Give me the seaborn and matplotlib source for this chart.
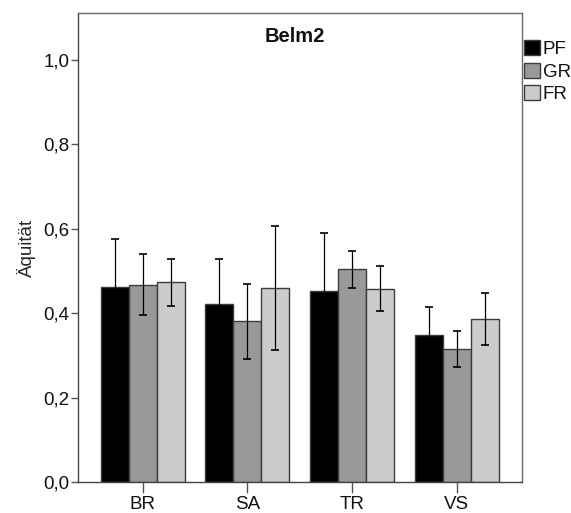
import matplotlib
matplotlib.use("Agg")
import matplotlib.pyplot as plt
import seaborn as sns
import pandas as pd
import numpy as np

categories = ["BR", "SA", "TR", "VS"]
groups = ["PF", "GR", "FR"]
means = {
    "PF": [0.463, 0.422, 0.453, 0.349],
    "GR": [0.468, 0.381, 0.504, 0.316],
    "FR": [0.473, 0.459, 0.458, 0.386],
}
errs = {
    "PF": [0.114, 0.107, 0.137, 0.066],
    "GR": [0.0725, 0.0895, 0.0435, 0.0425],
    "FR": [0.0555, 0.147, 0.053, 0.061],
}
yticks = [0.0, 0.2, 0.4, 0.6, 0.8, 1.0]
ytick_labels = ["0,0", "0,2", "0,4", "0,6", "0,8", "1,0"]
title = "Belm2"
ylabel = "Äquität"
colors = ["#000000", "#999999", "#cccccc"]

rows = []
for g in groups:
    for c, m, e in zip(categories, means[g], errs[g]):
        rows.append({"cat": c, "grp": g, "mean": m, "err": e})
df = pd.DataFrame(rows)

sns.set_style("white")
plt.rcParams["font.family"] = ["Liberation Sans", "DejaVu Sans"]
plt.rcParams["text.color"] = "#111111"
FS = 13.5

fig = plt.figure(figsize=(5.71, 5.13), dpi=100)
ax = fig.add_axes([77.7 / 571, 1 - 482.3 / 513, 444 / 571, 469 / 513])

sns.barplot(data=df, x="cat", y="mean", hue="grp", order=categories,
            hue_order=groups, palette=colors, width=0.8, errorbar=None,
            edgecolor="#3c3c3c", linewidth=1.0, saturation=1, ax=ax)

# error bars at the bar centres given by the library
for gi, g in enumerate(groups):
    cont = ax.containers[gi]
    xs = [p.get_x() + p.get_width() / 2 for p in cont]
    ax.errorbar(xs, means[g], yerr=errs[g], fmt="none", ecolor="#000000",
                elinewidth=0.9, capsize=3.0, capthick=1.2, zorder=5)

ax.set_ylim(0, 1.11)
ax.set_xlim(-0.62, 3.62)
ax.set_yticks(yticks)
ax.set_yticklabels(ytick_labels)
ax.set_xlabel("")
ax.set_ylabel(ylabel, fontsize=FS, labelpad=5)
ax.tick_params(axis="y", length=5, width=1, color="#555555", labelsize=FS, pad=1,
               left=True, labelcolor="#111111")
ax.tick_params(axis="x", length=8, width=1, color="#555555", labelsize=FS, pad=2,
               bottom=True, labelcolor="#111111")
for s in ax.spines.values():
    s.set_visible(True)
    s.set_color("#6a6a6a")
    s.set_linewidth(1.0)
ax.spines["left"].set_color("#444444")
ax.spines["bottom"].set_color("#444444")

ax.text(0.49, 0.95, title, transform=ax.transAxes, ha="center", va="center",
        fontsize=14.5, fontweight="bold")

sns.move_legend(ax, "upper left", bbox_to_anchor=(1.005, 0.943), frameon=False,
                title=None, fontsize=FS, handlelength=0.85, handleheight=0.85,
                handletextpad=0.15, labelspacing=0.25, borderpad=0, borderaxespad=0)

fig.savefig("out.png", dpi=100)
